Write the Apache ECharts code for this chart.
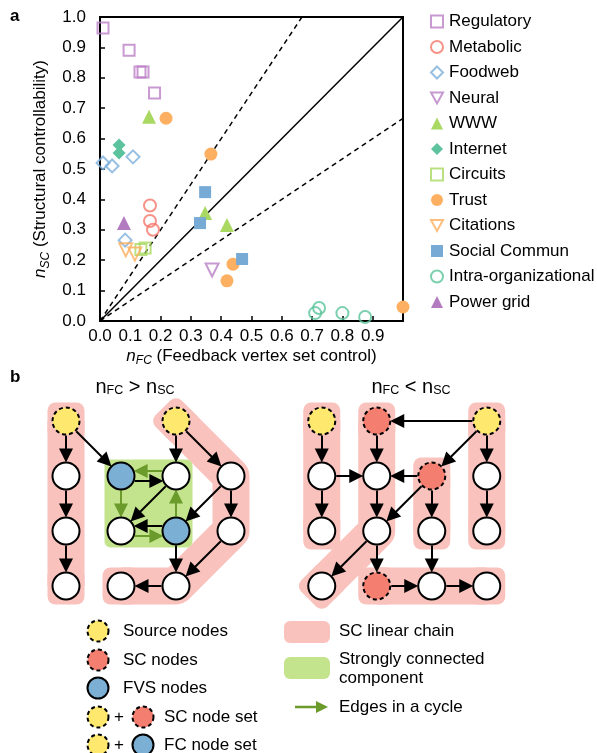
<!DOCTYPE html>
<html>
<head>
<meta charset="utf-8">
<script src="https://cdn.jsdelivr.net/npm/echarts@6.0.0/dist/echarts.min.js"></script>
<style>
  html, body { margin: 0; padding: 0; background: #fff; }
  #chart { width: 597px; height: 753px; }
</style>
</head>
<body>
<div id="chart"></div>
<script>
// ---------- panel a: fraction of nodes needed, [n_FC, n_SC] per network ----------
const regulatory   = [[0.010, 0.964], [0.096, 0.891], [0.132, 0.819], [0.142, 0.819], [0.180, 0.750]];
const metabolic    = [[0.165, 0.380], [0.165, 0.329], [0.175, 0.300]];
const foodweb      = [[0.010, 0.520], [0.040, 0.510], [0.109, 0.540], [0.083, 0.266]];
const neural       = [[0.370, 0.168]];
const www          = [[0.162, 0.672], [0.347, 0.355], [0.419, 0.316]];
const internet     = [[0.063, 0.579], [0.063, 0.553]];
const circuits     = [[0.135, 0.235], [0.149, 0.240]];
const trust        = [[0.218, 0.667], [0.366, 0.549], [0.439, 0.187], [0.419, 0.132], [1.000, 0.046]];
const citations    = [[0.085, 0.234], [0.115, 0.220]];
const socialCommun = [[0.347, 0.424], [0.330, 0.322], [0.469, 0.204]];
const intraOrg     = [[0.710, 0.026], [0.723, 0.043], [0.800, 0.026], [0.875, 0.013]];
const powerGrid    = [[0.079, 0.322]];

// reference lines n_SC = k * n_FC
const refSlopes = [1, 1.5, 2 / 3];

// ---------- panel b: two small directed networks ----------
// nodes: [column, row, role]
const fbNodes = [
  [0, 0, 'source'], [0, 1, 'plain'], [0, 2, 'plain'], [0, 3, 'plain'],
  [1, 1, 'fvs'], [2, 1, 'plain'], [2, 0, 'source'], [3, 1, 'plain'],
  [1, 2, 'plain'], [2, 2, 'fvs'], [3, 2, 'plain'], [1, 3, 'plain'], [2, 3, 'plain']
];
const fbEdges = [[0, 1], [1, 2], [2, 3], [0, 4], [6, 5], [6, 7], [7, 10], [10, 12], [12, 11],
                 [7, 9], [4, 5], [5, 8], [9, 8], [9, 12]];
const fbCycleEdges = [[5, 4], [4, 8], [8, 9], [9, 5]];
const fbChains = [[0, 1, 2, 3], [6, 7, 10, 12, 11]];
const fbComponent = [4, 5, 8, 9];

const scNodes = [
  [0, 0, 'source'], [0, 1, 'plain'], [0, 2, 'plain'],
  [1, 0, 'sc'], [1, 1, 'plain'], [1, 2, 'plain'],
  [2, 1, 'sc'], [2, 2, 'plain'],
  [3, 0, 'source'], [3, 1, 'plain'], [3, 2, 'plain'],
  [0, 3, 'plain'], [1, 3, 'sc'], [2, 3, 'plain'], [3, 3, 'plain']
];
const scEdges = [[8, 3], [8, 6], [8, 9], [9, 10], [0, 1], [1, 2], [1, 4], [3, 4], [4, 5],
                 [6, 4], [6, 5], [6, 7], [7, 13], [5, 11], [5, 12], [12, 13], [13, 14]];
const scChains = [[0, 1, 2], [3, 4, 5, 11], [6, 7], [8, 9, 10], [12, 13, 14]];

// ---------- styling ----------
const FONT = '"Liberation Sans", Arial, sans-serif';
const C = {
  regulatory: '#bb7fc6', metabolic: '#f5776b', foodweb: '#7dafdb', neural: '#b87fc4',
  www: '#a9d863', internet: '#5dc29e', circuits: '#a9d863', trust: '#fdb061',
  citations: '#fdae5a', social: '#77aad5', intra: '#5ac49b', power: '#b47cc0'
};
const YELLOW = '#fee96e', RED = '#f47f70', BLUE = '#7bafd4';
const PINK = '#f9c2bd', SCC_GREEN = '#c3e48c', CYCLE_GREEN = '#6b9b2b';
const DOWN_TRI = 'path://M0,0L10,0L5,9Z';
const UNIT = 55;          // pixels per column/row in panel b
const SC_SHIFT = 4.65;    // column offset of the second network
const NODE_R = 14.5, ARROW = 14, PAR_SHIFT = 5;

function hollow(name, symbol, color, data, size) {
  return {
    name, type: 'scatter', data, symbol, symbolSize: size,
    itemStyle: { color: 'rgba(255,255,255,0)', borderColor: color, borderWidth: 2 },
    emphasis: { disabled: true }
  };
}
function filled(name, symbol, color, data, size) {
  return {
    name, type: 'scatter', data, symbol, symbolSize: size,
    itemStyle: { color, opacity: 1 }, emphasis: { disabled: true }
  };
}

// ---------- panel b helpers ----------
const fbPos = fbNodes.map(n => [n[0], n[1]]);
const scPos = scNodes.map(n => [n[0] + SC_SHIFT, n[1]]);

function edgeLines(pos, edges, allEdges) {
  return edges.map(([a, b]) => {
    const p = pos[a], q = pos[b];
    let dx = q[0] - p[0], dy = q[1] - p[1];
    const len = Math.hypot(dx, dy);
    dx /= len; dy /= len;
    // a pair of opposite edges is drawn side by side
    const paired = allEdges.some(e => e[0] === b && e[1] === a);
    const off = paired ? PAR_SHIFT : 0;
    const ox = -dy * off / UNIT, oy = dx * off / UNIT;
    const trim = Math.sqrt(NODE_R * NODE_R - off * off) / UNIT;
    const trimEnd = trim + (ARROW / 2 - 1) / UNIT;
    return {
      coords: [
        [p[0] + dx * trim + ox, p[1] + dy * trim + oy],
        [q[0] - dx * trimEnd + ox, q[1] - dy * trimEnd + oy]
      ]
    };
  });
}
const fbAll = fbEdges.concat(fbCycleEdges);
const blackEdges = edgeLines(fbPos, fbEdges, fbAll).concat(edgeLines(scPos, scEdges, scEdges));
const greenEdges = edgeLines(fbPos, fbCycleEdges, fbAll);

const chainList = fbChains.map(c => c.map(i => fbPos[i])).concat(scChains.map(c => c.map(i => scPos[i])));
const componentList = [fbComponent.map(i => fbPos[i])];

function nodeSeries(role, fill, dashed) {
  const data = [];
  fbNodes.forEach((n, i) => { if (n[2] === role) data.push(fbPos[i]); });
  scNodes.forEach((n, i) => { if (n[2] === role) data.push(scPos[i]); });
  return {
    type: 'scatter', xAxisIndex: 1, yAxisIndex: 1, data, symbol: 'circle', symbolSize: 27, z: 5,
    silent: true,
    itemStyle: { color: fill, borderColor: '#000', borderWidth: 2, borderType: dashed ? [4, 3] : 'solid', opacity: 1 }
  };
}

// end piece of a chain band: a rounded square turned along the last segment
function chainCap(p, q, h) {
  return {
    type: 'rect', x: p[0], y: p[1], rotation: -Math.atan2(q[1] - p[1], q[0] - p[0]),
    shape: { x: -h, y: -h, width: 2 * h, height: 2 * h, r: 8 },
    style: { fill: PINK }
  };
}

const chart = echarts.init(document.getElementById('chart'), null, { renderer: 'canvas' });

const sub = {
  i: { fontStyle: 'italic', fontSize: 17, lineHeight: 22, verticalAlign: 'middle', fontFamily: FONT, color: '#000' },
  s: { fontStyle: 'italic', fontSize: 12, lineHeight: 12, verticalAlign: 'bottom', fontFamily: FONT, color: '#000' },
  t: { fontSize: 17, lineHeight: 22, verticalAlign: 'middle', fontFamily: FONT, color: '#000' }
};

const titleRich = {
  n: { fontSize: 20, fontFamily: FONT, color: '#000', lineHeight: 22, verticalAlign: 'bottom' },
  c: { fontSize: 12.5, fontFamily: FONT, color: '#000', lineHeight: 15, verticalAlign: 'bottom' },
  o: { fontSize: 20, fontFamily: FONT, color: '#000', lineHeight: 22, verticalAlign: 'bottom' }
};

const legendNames = ['Regulatory', 'Metabolic', 'Foodweb', 'Neural', 'WWW', 'Internet', 'Circuits',
  'Trust', 'Citations', 'Social Commun', 'Intra-organizational', 'Power grid'];

function legendCircle(x, y, fill, dashed) {
  return {
    type: 'circle', shape: { cx: x, cy: y, r: 10.5 },
    style: { fill, stroke: '#000', lineWidth: 2, lineDash: dashed ? [4, 3] : null }
  };
}
function legendText(x, y, text) {
  return { type: 'text', x, y, style: { text, fontSize: 17, fontFamily: FONT, fill: '#000', verticalAlign: 'middle' } };
}

const option = {
  animation: false,
  textStyle: { fontFamily: FONT },
  grid: [
    { left: 100, top: 17, width: 303, height: 304, show: true, borderColor: '#000', borderWidth: 2, backgroundColor: 'transparent' },
    { left: 11, top: 366, width: 550, height: 275, show: false }
  ],
  xAxis: [
    {
      type: 'value', gridIndex: 0, min: 0, max: 1, interval: 0.1,
      axisLine: { show: true, lineStyle: { color: '#000', width: 2 } },
      axisTick: { show: true, inside: true, length: 5, lineStyle: { color: '#000', width: 1.5 } },
      splitLine: { show: false },
      axisLabel: { fontSize: 17, color: '#000', fontFamily: FONT, margin: 7,
        formatter: v => (v > 0.95 ? '' : v.toFixed(1)) },
      name: '{i|n}{s|FC}{t| (Feedback vertex set control)}',
      nameLocation: 'middle', nameGap: 24,
      nameTextStyle: { rich: sub }
    },
    { type: 'value', gridIndex: 1, min: -1, max: 9, show: false }
  ],
  yAxis: [
    {
      type: 'value', gridIndex: 0, min: 0, max: 1, interval: 0.1,
      axisLine: { show: true, lineStyle: { color: '#000', width: 2 } },
      axisTick: { show: true, inside: true, length: 5, lineStyle: { color: '#000', width: 1.5 } },
      splitLine: { show: false },
      axisLabel: { fontSize: 17, color: '#000', fontFamily: FONT, margin: 14, formatter: v => v.toFixed(1) },
      name: '{i|n}{s|SC}{t| (Structural controllability)}',
      nameLocation: 'middle', nameGap: 45, nameRotate: 90,
      nameTextStyle: { rich: sub }
    },
    { type: 'value', gridIndex: 1, min: -1, max: 4, inverse: true, show: false }
  ],
  legend: {
    orient: 'vertical', left: 425, top: 8, itemWidth: 12, itemHeight: 12, itemGap: 8.5,
    data: legendNames, selectedMode: false,
    textStyle: { fontSize: 17, color: '#000', fontFamily: FONT, padding: [0, 0, 0, 1] }
  },
  series: [
    // reference lines
    ...refSlopes.map((k, i) => ({
      type: 'line', silent: true, symbol: 'none', z: 1,
      data: [[0, 0], k >= 1 ? [1 / k, 1] : [1, k]],
      lineStyle: { color: '#000', width: 1.5, type: i === 0 ? 'solid' : [5, 4] }
    })),
    hollow('Regulatory', 'rect', C.regulatory, regulatory, 11),
    hollow('Metabolic', 'circle', C.metabolic, metabolic, 12),
    hollow('Foodweb', 'diamond', C.foodweb, foodweb, 13),
    hollow('Neural', DOWN_TRI, C.neural, neural, 13),
    filled('WWW', 'triangle', C.www, www, 14),
    filled('Internet', 'diamond', C.internet, internet, 13),
    hollow('Circuits', 'rect', C.circuits, circuits, 11),
    filled('Trust', 'circle', C.trust, trust, 13),
    hollow('Citations', DOWN_TRI, C.citations, citations, 13),
    filled('Social Commun', 'rect', C.social, socialCommun, 12),
    hollow('Intra-organizational', 'circle', C.intra, intraOrg, 12),
    filled('Power grid', 'triangle', C.power, powerGrid, 14),

    // panel b: linear chains
    {
      type: 'custom', xAxisIndex: 1, yAxisIndex: 1, z: 1, silent: true,
      data: chainList.map(c => c[0]),
      renderItem(params, api) {
        const pts = chainList[params.dataIndex].map(p => api.coord(p));
        const h = 18.5, n = pts.length;
        return {
          type: 'group',
          children: [
            {
              type: 'polyline', shape: { points: pts },
              style: { stroke: PINK, fill: null, lineWidth: 2 * h, lineCap: 'butt', lineJoin: 'round' }
            },
            chainCap(pts[0], pts[1], h),
            chainCap(pts[n - 1], pts[n - 2], h)
          ]
        };
      }
    },
    // panel b: strongly connected component
    {
      type: 'custom', xAxisIndex: 1, yAxisIndex: 1, z: 1, silent: true,
      data: componentList.map(c => c[0]),
      renderItem(params, api) {
        const pts = componentList[params.dataIndex].map(p => api.coord(p));
        const xs = pts.map(p => p[0]), ys = pts.map(p => p[1]);
        const h = 16.5;
        const x0 = Math.min(...xs) - h, y0 = Math.min(...ys) - h;
        return {
          type: 'rect',
          shape: { x: x0, y: y0, width: Math.max(...xs) + h - x0, height: Math.max(...ys) + h - y0, r: 6 },
          style: { fill: SCC_GREEN }
        };
      }
    },
    // panel b: edges
    {
      type: 'lines', coordinateSystem: 'cartesian2d', xAxisIndex: 1, yAxisIndex: 1, z: 3, silent: true,
      data: blackEdges, symbol: ['none', 'triangle'], symbolSize: ARROW,
      lineStyle: { color: '#000', width: 2, opacity: 1 }
    },
    {
      type: 'lines', coordinateSystem: 'cartesian2d', xAxisIndex: 1, yAxisIndex: 1, z: 3, silent: true,
      data: greenEdges, symbol: ['none', 'triangle'], symbolSize: ARROW,
      lineStyle: { color: CYCLE_GREEN, width: 2, opacity: 1 }
    },
    // panel b: nodes
    nodeSeries('plain', '#fff', false),
    nodeSeries('source', YELLOW, true),
    nodeSeries('sc', RED, true),
    nodeSeries('fvs', BLUE, false)
  ],
  graphic: [
    { type: 'text', x: 10, y: 8, style: { text: 'a', fontSize: 17, fontWeight: 'bold', fontFamily: FONT, fill: '#000' } },
    { type: 'text', x: 10, y: 369, style: { text: 'b', fontSize: 17, fontWeight: 'bold', fontFamily: FONT, fill: '#000' } },
    { type: 'text', x: 135, y: 386, style: { text: '{n|n}{c|FC}{o| > n}{c|SC}', rich: titleRich, align: 'center', verticalAlign: 'middle' } },
    { type: 'text', x: 411, y: 386, style: { text: '{n|n}{c|FC}{o| < n}{c|SC}', rich: titleRich, align: 'center', verticalAlign: 'middle' } },

    legendCircle(98, 631, YELLOW, true), legendText(123, 631, 'Source nodes'),
    legendCircle(98, 660, RED, true), legendText(123, 660, 'SC nodes'),
    legendCircle(98, 688, BLUE, false), legendText(123, 688, 'FVS nodes'),
    legendCircle(98, 717, YELLOW, true), legendText(114, 717, '+'),
    legendCircle(143, 717, RED, true), legendText(164, 717, 'SC node set'),
    legendCircle(98, 745, YELLOW, true), legendText(114, 745, '+'),
    legendCircle(143, 745, BLUE, false), legendText(164, 745, 'FC node set'),

    { type: 'rect', shape: { x: 284, y: 621, width: 46, height: 22, r: 6 }, style: { fill: PINK } },
    legendText(339, 631, 'SC linear chain'),
    { type: 'rect', shape: { x: 284, y: 657, width: 46, height: 22, r: 6 }, style: { fill: SCC_GREEN } },
    { type: 'text', x: 339, y: 669, style: { text: 'Strongly connected\ncomponent', fontSize: 17, lineHeight: 19, fontFamily: FONT, fill: '#000', verticalAlign: 'middle' } },
    { type: 'line', shape: { x1: 295, y1: 707, x2: 318, y2: 707 }, style: { stroke: CYCLE_GREEN, lineWidth: 2.5 } },
    { type: 'polygon', shape: { points: [[316, 701], [328, 707], [316, 713]] }, style: { fill: CYCLE_GREEN } },
    legendText(339, 707, 'Edges in a cycle')
  ]
};

chart.setOption(option);
</script>
</body>
</html>
